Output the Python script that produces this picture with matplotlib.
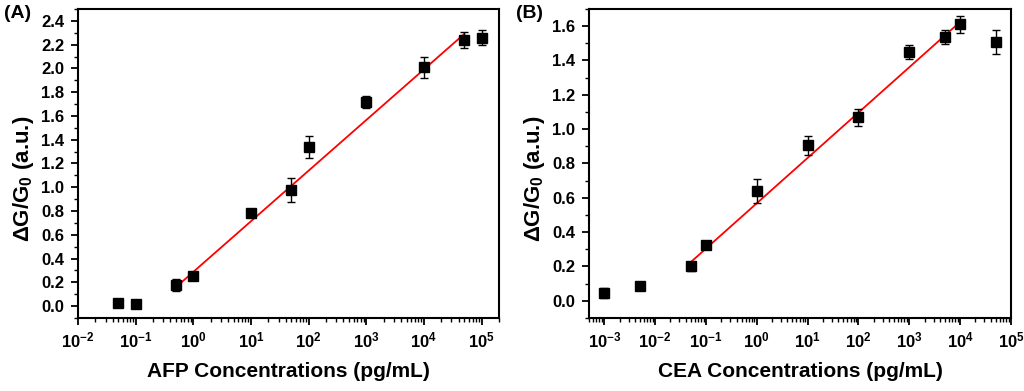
import matplotlib
matplotlib.use("Agg")
import matplotlib.pyplot as plt
from matplotlib.ticker import LogLocator, MultipleLocator, NullFormatter, LogFormatterSciNotation, FormatStrFormatter

plt.rcParams['font.family'] = ['Liberation Sans', 'DejaVu Sans']
plt.rcParams['font.weight'] = 'bold'
plt.rcParams['mathtext.fontset'] = 'custom'
plt.rcParams['mathtext.rm'] = 'Liberation Sans:bold'
plt.rcParams['mathtext.it'] = 'Liberation Sans:bold'
plt.rcParams['mathtext.bf'] = 'Liberation Sans:bold'
plt.rcParams['mathtext.default'] = 'rm'
plt.rcParams['axes.unicode_minus'] = False

# Panel A data (AFP)
afp_conc = [0.05, 0.1, 0.5, 1, 10, 50, 100, 1000, 10000, 50000, 100000]
afp_signal = [0.025, 0.015, 0.18, 0.25, 0.785, 0.98, 1.34, 1.715, 2.01, 2.24, 2.26]
afp_err = [0.0, 0.0, 0.05, 0.0, 0.0, 0.10, 0.09, 0.05, 0.09, 0.07, 0.06]
afp_fit_x = [0.5, 50000]
afp_fit_y = [0.16, 2.29]

# Panel B data (CEA)
cea_conc = [0.001, 0.005, 0.05, 0.1, 1, 10, 100, 1000, 5000, 10000, 50000]
cea_signal = [0.046, 0.085, 0.20, 0.325, 0.64, 0.905, 1.07, 1.45, 1.535, 1.61, 1.51]
cea_err = [0.03, 0.015, 0.025, 0.015, 0.07, 0.055, 0.05, 0.04, 0.04, 0.05, 0.07]
cea_fit_x = [0.05, 10000]
cea_fit_y = [0.225, 1.625]

fig = plt.figure(figsize=(10.24, 3.91), dpi=100)
axA = fig.add_axes([0.0762, 0.1867, 0.4111, 0.7903])
axB = fig.add_axes([0.5752, 0.1867, 0.4121, 0.7903])

def style(ax, xlim, ylim, ymajor, xlabel):
    ax.set_xscale('log')
    ax.set_xlim(*xlim)
    ax.set_ylim(*ylim)
    ax.yaxis.set_major_locator(MultipleLocator(ymajor))
    ax.yaxis.set_minor_locator(MultipleLocator(ymajor / 2))
    ax.xaxis.set_major_locator(LogLocator(base=10, numticks=20))
    ax.xaxis.set_minor_locator(LogLocator(base=10, subs=range(2, 10), numticks=20))
    ax.xaxis.set_minor_formatter(NullFormatter())
    ax.xaxis.set_major_formatter(LogFormatterSciNotation())
    ax.yaxis.set_major_formatter(FormatStrFormatter('%.1f'))
    for s in ax.spines.values():
        s.set_linewidth(1.5)
    ax.tick_params(which='major', length=5, width=1.3, direction='out')
    ax.tick_params(axis='y', labelsize=12, pad=5)
    ax.tick_params(axis='x', labelsize=12, pad=4)
    ax.tick_params(which='minor', length=3, width=1.0, direction='out')
    ax.tick_params(top=False, right=False, which='both')
    ax.set_xlabel(xlabel, fontsize=15, fontweight='bold', labelpad=8)
    ax.set_ylabel('ΔG/G$_0$ (a.u.)', fontsize=16, fontweight='bold')
    ax.yaxis.set_label_coords(-0.10, 0.45)
    for lab in ax.get_yticklabels() + ax.get_xticklabels():
        lab.set_fontweight('bold')

axA.errorbar(afp_conc, afp_signal, yerr=afp_err, fmt='s', color='black',
             markersize=6.5, capsize=3, elinewidth=1, capthick=1, zorder=3)
axA.plot(afp_fit_x, afp_fit_y, color='red', linewidth=1.3, zorder=2)
style(axA, (1e-2, 2e5), (-0.1, 2.5), 0.2, 'AFP Concentrations (pg/mL)')

axB.errorbar(cea_conc, cea_signal, yerr=cea_err, fmt='s', color='black',
             markersize=6.5, capsize=3, elinewidth=1, capthick=1, zorder=3)
axB.plot(cea_fit_x, cea_fit_y, color='red', linewidth=1.3, zorder=2)
style(axB, (5e-4, 1e5), (-0.1, 1.7), 0.2, 'CEA Concentrations (pg/mL)')

fig.text(0.004, 0.965, '(A)', fontsize=14, fontweight='bold', va='center', ha='left')
fig.text(0.504, 0.965, '(B)', fontsize=14, fontweight='bold', va='center', ha='left')

fig.savefig('out.png', dpi=100)
